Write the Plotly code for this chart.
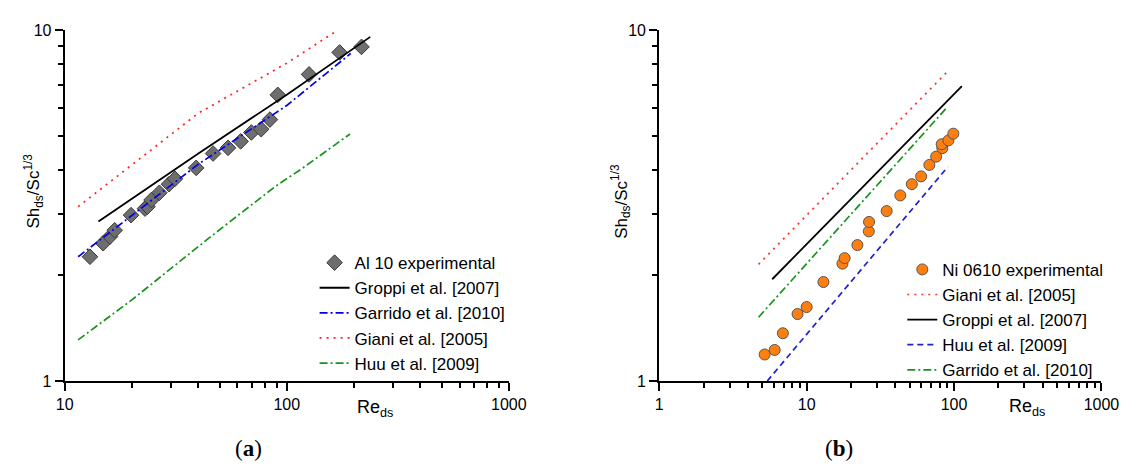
import plotly.graph_objects as go

# ---------------- Panel (a) data ----------------
a_exp_re = [13.0, 14.9, 16.0, 16.8, 19.9, 23.0, 23.6, 24.6, 26.7, 29.5, 31.4, 39.1,
            46.6, 54.4, 62.0, 69.3, 76.7, 84.0, 91.1, 126, 173, 217]
a_exp_sh = [2.26, 2.47, 2.58, 2.69, 2.97, 3.10, 3.14, 3.28, 3.44, 3.64, 3.77, 4.05,
            4.45, 4.62, 4.82, 5.11, 5.22, 5.56, 6.54, 7.48, 8.64, 8.96]

a_groppi_re = [14.2, 40, 100, 237.6]
a_groppi_sh = [2.85, 4.45, 6.55, 9.57]
a_garrido_re = [11.5, 40, 100, 194]
a_garrido_sh = [2.26, 4.15, 6.10, 8.58]
a_giani_re = [11.5, 40, 100, 169.6]
a_giani_sh = [3.14, 5.80, 8.05, 10.0]
a_huu_re = [11.5, 20, 45.5, 89, 117, 192.7]
a_huu_sh = [1.31, 1.70, 2.58, 3.59, 4.03, 5.06]

# ---------------- Panel (b) data ----------------
b_exp_re = [5.19, 6.07, 6.90, 8.68, 10.0, 13.0, 17.5, 18.1, 22.1, 26.4, 26.5, 34.9,
            43.2, 51.7, 59.8, 68.0, 75.6, 83.3, 82.4, 91.6, 98.9]
b_exp_sh = [1.19, 1.226, 1.368, 1.552, 1.625, 1.915, 2.16, 2.24, 2.44, 2.67, 2.84, 3.05,
            3.38, 3.64, 3.83, 4.13, 4.36, 4.61, 4.73, 4.85, 5.07]

b_giani_re = [4.72, 90.8]
b_giani_sh = [2.15, 7.64]
b_groppi_re = [5.84, 113]
b_groppi_sh = [1.95, 6.93]
b_huu_re = [5.41, 90.8]
b_huu_sh = [1.0, 4.08]
b_garrido_re = [4.72, 88.5]
b_garrido_sh = [1.52, 5.99]

W, H = 1139, 470
FONT = "Liberation Sans, Arial, sans-serif"

def px_x(p):
    return p / W

def px_y(p):
    return (H - p) / H

fig = go.Figure()

# ---- Panel a traces ----
fig.add_trace(go.Scatter(x=a_exp_re, y=a_exp_sh, mode="markers", name="Al 10 experimental",
                         marker=dict(symbol="diamond", size=12, color="#6e6e6e",
                                     line=dict(color="#3a3a3a", width=1)),
                         xaxis="x", yaxis="y", legend="legend"))
fig.add_trace(go.Scatter(x=a_groppi_re, y=a_groppi_sh, mode="lines", name="Groppi et al. [2007]",
                         line=dict(color="black", width=1.8), xaxis="x", yaxis="y", legend="legend"))
fig.add_trace(go.Scatter(x=a_garrido_re, y=a_garrido_sh, mode="lines", name="Garrido et al. [2010]",
                         line=dict(color="#0000ee", width=1.7, dash="8px,3px,2px,3px"),
                         xaxis="x", yaxis="y", legend="legend"))
fig.add_trace(go.Scatter(x=a_giani_re, y=a_giani_sh, mode="lines", name="Giani et al. [2005]",
                         line=dict(color="#ff2020", width=1.7, dash="2px,5px"),
                         xaxis="x", yaxis="y", legend="legend"))
fig.add_trace(go.Scatter(x=a_huu_re, y=a_huu_sh, mode="lines", name="Huu et al. [2009]",
                         line=dict(color="#18931b", width=1.7, dash="8px,3px,2px,3px"),
                         xaxis="x", yaxis="y", legend="legend"))

# ---- Panel b traces ----
fig.add_trace(go.Scatter(x=b_exp_re, y=b_exp_sh, mode="markers", name="Ni 0610 experimental",
                         marker=dict(symbol="circle", size=11, color="#ff7f0e",
                                     line=dict(color="#555555", width=1)),
                         xaxis="x2", yaxis="y2", legend="legend2"))
fig.add_trace(go.Scatter(x=b_giani_re, y=b_giani_sh, mode="lines", name="Giani et al. [2005]",
                         line=dict(color="#ff3030", width=1.7, dash="2px,5px"),
                         xaxis="x2", yaxis="y2", legend="legend2"))
fig.add_trace(go.Scatter(x=b_groppi_re, y=b_groppi_sh, mode="lines", name="Groppi et al. [2007]",
                         line=dict(color="black", width=1.8), xaxis="x2", yaxis="y2", legend="legend2"))
fig.add_trace(go.Scatter(x=b_huu_re, y=b_huu_sh, mode="lines", name="Huu et al. [2009]",
                         line=dict(color="#2020cc", width=1.7, dash="6px,4px"),
                         xaxis="x2", yaxis="y2", legend="legend2"))
fig.add_trace(go.Scatter(x=b_garrido_re, y=b_garrido_sh, mode="lines", name="Garrido et al. [2010]",
                         line=dict(color="#18931b", width=1.7, dash="8px,3px,2px,3px"),
                         xaxis="x2", yaxis="y2", legend="legend2"))

def axis_style(**kw):
    d = dict(type="log", showgrid=False, zeroline=False, showline=True, linecolor="black",
             linewidth=2, ticks="outside", ticklen=8, tickwidth=2, tickcolor="black",
             tickmode="linear", tick0=0, dtick=1,
             tickfont=dict(family=FONT, size=16, color="black"),
             minor=dict(ticks="outside", ticklen=5, tickwidth=1.8, tickcolor="black",
                        dtick="D1", showgrid=False),
             fixedrange=True)
    d.update(kw)
    return d

yd = [px_y(387), px_y(23)]
fig.update_layout(
    width=W, height=H,
    margin=dict(l=0, r=0, t=0, b=0),
    paper_bgcolor="white", plot_bgcolor="white",
    font=dict(family=FONT, color="black"),
    xaxis=axis_style(range=[1, 3], domain=[px_x(57), px_x(512)], anchor="y"),
    yaxis=axis_style(range=[0, 1], domain=yd, anchor="x"),
    xaxis2=axis_style(range=[0, 3], domain=[px_x(666), px_x(1119)], anchor="y2"),
    yaxis2=axis_style(range=[0, 1], domain=yd, anchor="x2"),
    legend=dict(x=px_x(313), y=px_y(246), xanchor="left", yanchor="top",
                bgcolor="rgba(0,0,0,0)", font=dict(family=FONT, size=17, color="black"),
                tracegroupgap=0),
    legend2=dict(x=px_x(915), y=px_y(253), xanchor="left", yanchor="top",
                 bgcolor="rgba(0,0,0,0)", font=dict(family=FONT, size=17, color="black"),
                 tracegroupgap=0),
    showlegend=True,
)

ann = [
    dict(text="Sh<sub>ds</sub>/Sc<sup>1/3</sup>", x=px_x(25), y=px_y(190), textangle=-90,
         font=dict(family=FONT, size=17)),
    dict(text="Sh<sub>ds</sub>/Sc<sup>1/3</sup>", x=px_x(627), y=px_y(201), textangle=-90,
         font=dict(family=FONT, size=17)),
    dict(text="Re<sub>ds</sub>", x=px_x(375), y=px_y(416), font=dict(family=FONT, size=18)),
    dict(text="Re<sub>ds</sub>", x=px_x(1043), y=px_y(414), font=dict(family=FONT, size=18)),
    dict(text="(<b>a</b>)", x=px_x(245), y=px_y(457),
         font=dict(family="Liberation Serif, DejaVu Serif, serif", size=23)),
    dict(text="(<b>b</b>)", x=px_x(850), y=px_y(457),
         font=dict(family="Liberation Serif, DejaVu Serif, serif", size=23)),
]
for a in ann:
    a.update(xref="paper", yref="paper", showarrow=False, xanchor="center", yanchor="middle")
fig.update_layout(annotations=ann)

fig.write_html("out.html")
